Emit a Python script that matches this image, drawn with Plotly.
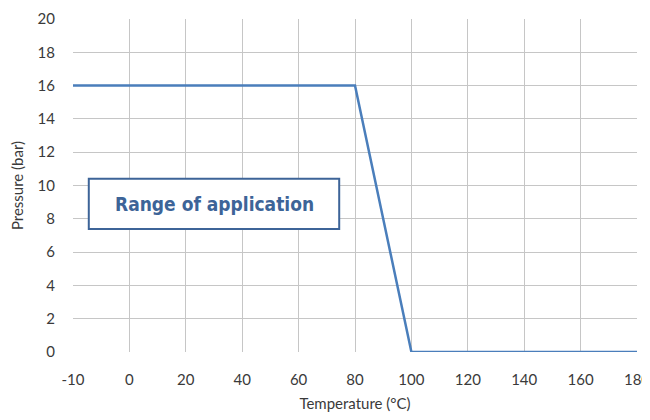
import plotly.graph_objects as go

temperature_labels = ["-10", "0", "20", "40", "60", "80", "100", "120", "140", "160", "180"]
pressure_bar = [16, 16, 16, 16, 16, 16, 0, 0, 0, 0, 0]
y_ticks = [0, 2, 4, 6, 8, 10, 12, 14, 16, 18, 20]

fig = go.Figure()
fig.add_trace(go.Scatter(
    x=temperature_labels, y=pressure_bar, mode="lines",
    line=dict(color="#4A7EBB", width=2.5), hoverinfo="skip", showlegend=False,
))

tick_font = dict(family="Lato, Open Sans, sans-serif", size=15, color="#3A3A3A")

fig.update_layout(
    width=642, height=404,
    margin=dict(l=65, r=13, t=11, b=60),
    paper_bgcolor="white", plot_bgcolor="white",
    xaxis=dict(
        type="category", categoryorder="array", categoryarray=temperature_labels,
        range=[0, len(temperature_labels) - 1], automargin=False,
        showgrid=True, gridcolor="#C6C6C6", gridwidth=1,
        showline=False, zeroline=False,
        ticks="outside", ticklen=14, tickcolor="rgba(0,0,0,0)",
        tickfont=tick_font, ticklabeloverflow="allow",
        title=dict(text="Temperature (°C)", font=tick_font, standoff=15),
    ),
    yaxis=dict(
        range=[0, 20], tickvals=y_ticks, automargin=False,
        showgrid=True, gridcolor="#C6C6C6", gridwidth=1,
        showline=False, zeroline=False,
        ticks="outside", ticklen=14, tickcolor="rgba(0,0,0,0)",
        tickfont=tick_font,
        title=dict(text="Pressure (bar)", font=tick_font, standoff=10),
    ),
    shapes=[dict(
        type="rect", xref="paper", yref="paper",
        x0=0.028, x1=0.472, y0=0.369, y1=0.520,
        line=dict(color="#3D6498", width=2), fillcolor="white", layer="above",
    )],
    annotations=[dict(
        text="<b>Range of application</b>", xref="paper", yref="paper",
        x=0.25, y=0.4445, xanchor="center", yanchor="middle", showarrow=False,
        font=dict(family="DejaVu Sans Condensed, Liberation Sans Narrow, Roboto, sans-serif", size=19, color="#3D6498"),
    )],
)

fig.write_html("out.html")
